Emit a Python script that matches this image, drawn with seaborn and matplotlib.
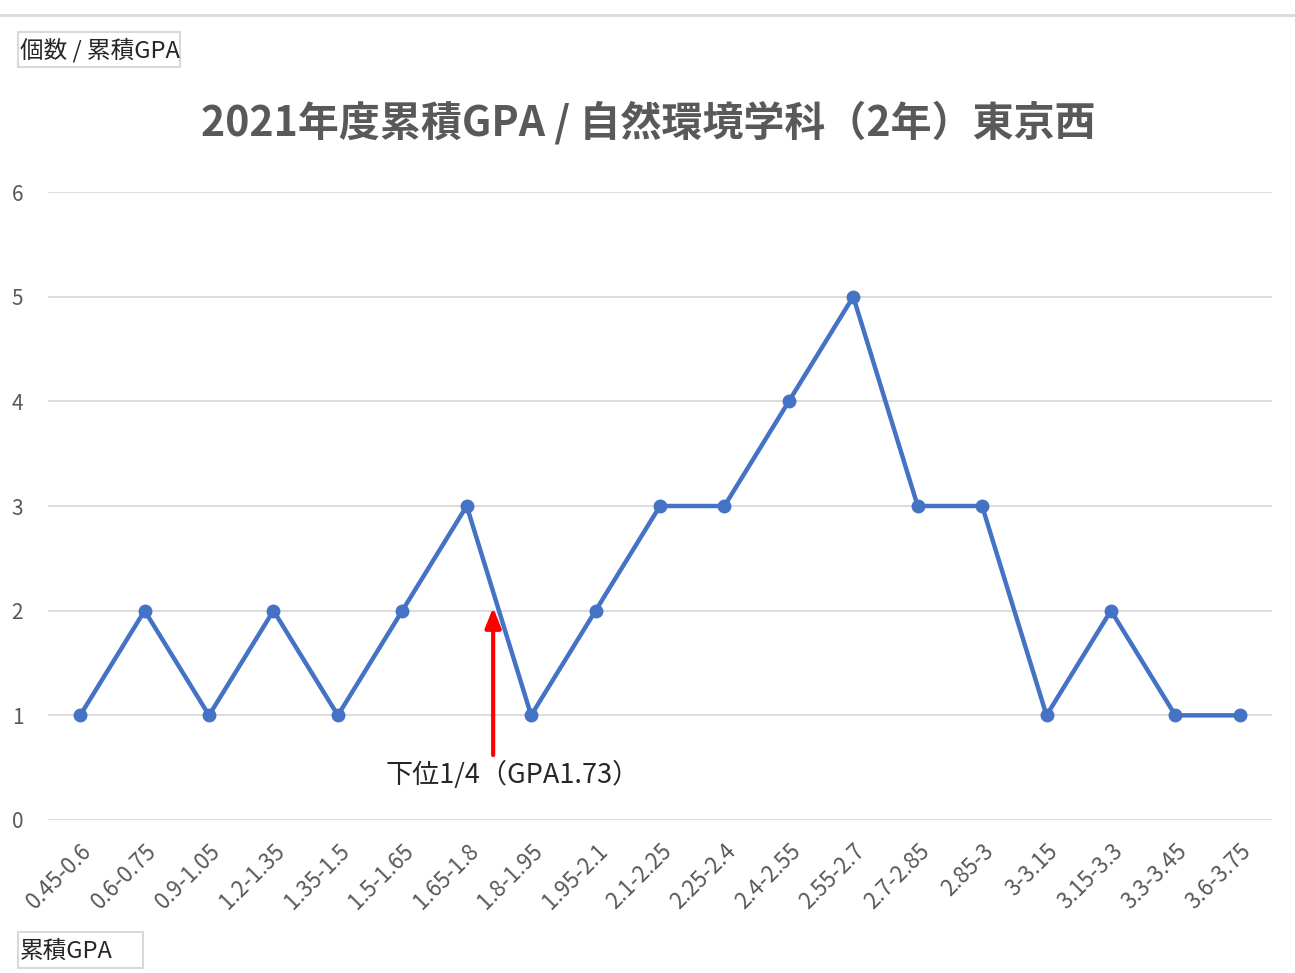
import matplotlib
matplotlib.use("Agg")
import matplotlib.pyplot as plt
import seaborn as sns
import pandas as pd
from matplotlib.lines import Line2D
from matplotlib.patches import Rectangle

ranges = ["0.45-0.6", "0.6-0.75", "0.9-1.05", "1.2-1.35", "1.35-1.5", "1.5-1.65",
          "1.65-1.8", "1.8-1.95", "1.95-2.1", "2.1-2.25", "2.25-2.4", "2.4-2.55",
          "2.55-2.7", "2.7-2.85", "2.85-3", "3-3.15", "3.15-3.3", "3.3-3.45", "3.6-3.75"]
counts = [1, 2, 1, 2, 1, 2, 3, 1, 2, 3, 3, 4, 5, 3, 3, 1, 2, 1, 1]
yticks = [0, 1, 2, 3, 4, 5, 6]
title = "2021年度累積GPA / 自然環境学科（2年）東京西"
ylabel = "個数 / 累積GPA"
xlabel = "累積GPA"
note = "下位1/4（GPA1.73）"
note_pos = 6.41
note_head = 2.03
note_tail = 0.62

sns.set_theme(style="white")
plt.rcParams["font.family"] = ["Noto Sans CJK JP", "DejaVu Sans"]

df = pd.DataFrame({"range": pd.Categorical(ranges, categories=ranges, ordered=True),
                   "count": counts})
df["pos"] = range(len(ranges))

W, H = 1295, 973
fig = plt.figure(figsize=(12.95, 9.73), dpi=100)
ax = fig.add_axes([48 / W, 1 - 820 / H, (1272 - 48) / W, (820 - 192) / H])

sns.lineplot(data=df, x="pos", y="count", ax=ax, color="#4472C4", linewidth=3.2,
             marker="o", markersize=10, markeredgewidth=0, sort=False, zorder=3)

ax.set_xlim(-0.5, len(ranges) - 0.5)
ax.set_ylim(0, 6)
ax.set_yticks(yticks)
ax.set_yticklabels([str(v) for v in yticks])
ax.set_xticks(range(len(ranges)))
ax.set_xticklabels(ranges, rotation=45, ha="right", rotation_mode="anchor")
ax.grid(axis="y", color="#d9d9d9", linewidth=1.3)
ax.grid(axis="x", visible=False)
for s in ax.spines.values():
    s.set_visible(False)
ax.tick_params(axis="x", length=0, colors="#595959", labelsize=16, pad=14)
ax.tick_params(axis="y", length=0, colors="#595959", labelsize=15, pad=22)
for lbl in ax.get_yticklabels():
    lbl.set_horizontalalignment("center")
ax.set_xlabel("")
ax.set_ylabel("")

fig.text(648 / W, 1 - 123 / H, title, ha="center", va="center",
         fontsize=29.5, fontweight="bold", color="#595959")

# boxed axis labels
fig.patches.append(Rectangle((18 / W, 1 - 67 / H), (180 - 18) / W, (67 - 32) / H,
                             transform=fig.transFigure, facecolor="none",
                             edgecolor="#d9d9d9", linewidth=1.5))
fig.text(20 / W, 1 - 50 / H, ylabel, ha="left", va="center", fontsize=17,
         color="#262626")
fig.patches.append(Rectangle((18 / W, 1 - 968 / H), (143 - 18) / W, (968 - 932) / H,
                             transform=fig.transFigure, facecolor="none",
                             edgecolor="#d9d9d9", linewidth=1.5))
fig.text(20 / W, 1 - 951 / H, xlabel, ha="left", va="center", fontsize=17,
         color="#262626")

ax.annotate("", xy=(note_pos, note_head), xytext=(note_pos, note_tail),
            arrowprops=dict(arrowstyle="-|>,head_length=1.0,head_width=0.4",
                            color="#ff0000", linewidth=3, shrinkA=0, shrinkB=0),
            zorder=4)
ax.text(note_pos + 0.3, 0.43, note, ha="center", va="center", fontsize=19.5,
        color="#262626")

fig.add_artist(Line2D([0, 1], [1 - 15 / H, 1 - 15 / H], color="#d9d9d9",
                      linewidth=2, transform=fig.transFigure))

fig.savefig("out.png", dpi=100, facecolor="white")
